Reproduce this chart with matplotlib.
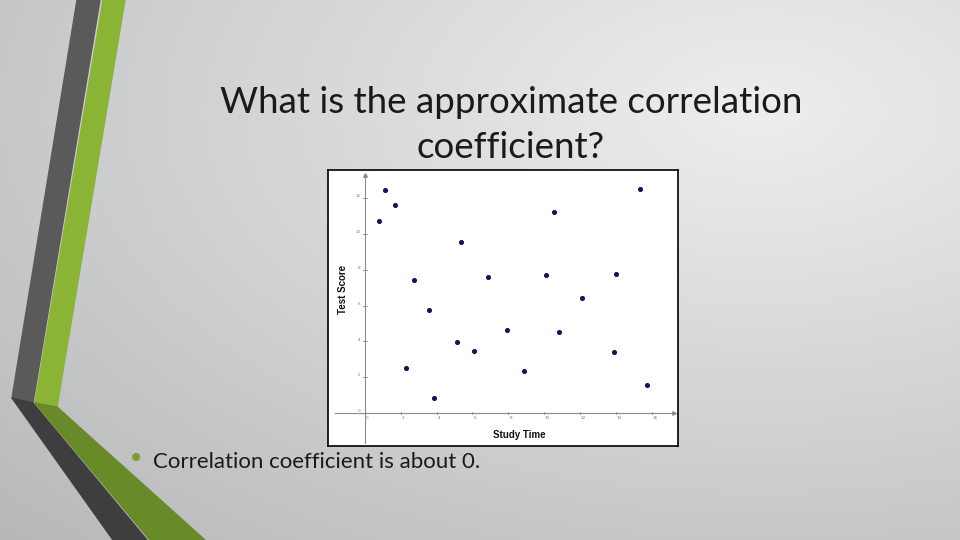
import numpy as np
import matplotlib.pyplot as plt
from matplotlib.patches import Polygon

# Дані, зчитані з діаграми розсіювання
study_time = [1.13, 1.68, 0.79, 5.38, 2.76, 6.85, 15.31, 10.54, 10.09, 13.99, 12.10,
              3.60, 5.14, 6.10, 7.90, 2.30, 3.86, 8.89, 10.84, 13.88, 15.70]
test_score = [12.47, 11.64, 10.74, 9.54, 7.45, 7.62, 12.51, 11.25, 7.71, 7.78, 6.42,
              5.75, 3.95, 3.46, 4.64, 2.51, 0.85, 2.33, 4.53, 3.42, 1.55]
x_ticks = [0, 2, 4, 6, 8, 10, 12, 14, 16]
y_ticks = [0, 2, 4, 6, 8, 10, 12]

title = "What is the approximate correlation\ncoefficient?"
bullet = "Correlation coefficient is about 0."

W, H = 960, 540
fig = plt.figure(figsize=(9.6, 5.4), dpi=100)

# Фон слайда (сірий градієнт)
bg = fig.add_axes([0, 0, 1, 1])
bg.axis('off')
yy, xx = np.mgrid[0:H, 0:W]
d = np.hypot((xx - 760) / 960, (yy - 110) / 540)
g = np.clip(0.93 - 0.19 * d, 0, 1)
img = np.dstack([g, g + 0.004, g + 0.008]).clip(0, 1)
bg.imshow(img, extent=[0, W, H, 0], aspect='auto')
bg.set_xlim(0, W)
bg.set_ylim(H, 0)

# Декоративні смуги зліва
bg.add_patch(Polygon([(77, 0), (100, 0), (33, 403), (12, 398)], closed=True, color='#5a5a5a'))
bg.add_patch(Polygon([(103, 0), (125, 0), (57, 407), (35, 403)], closed=True, color='#8ab434'))
bg.add_patch(Polygon([(12, 398), (33, 403), (147, 540), (113, 540)], closed=True, color='#3e3e3e'))
bg.add_patch(Polygon([(35, 403), (57, 407), (205, 540), (150, 540)], closed=True, color='#688a28'))

# Заголовок і текст
bg.text(511, 125, title, ha='center', va='center', fontsize=26.5, family='Lato',
        color='#1a1a1a', linespacing=1.45)
bg.text(136, 459, '•', ha='center', va='center', fontsize=20, color='#7a9e32')
bg.text(153, 462, bullet, ha='left', va='center', fontsize=16, family='Lato', color='#1a1a1a')

# Діаграма розсіювання
ax = fig.add_axes([328 / W, 1 - 446 / H, 350 / W, 276 / H])
ax.set_facecolor('white')
for s in ax.spines.values():
    s.set_color('black')
    s.set_linewidth(1.2)
ax.set_xticks([])
ax.set_yticks([])
ax.set_xlim(-2.05, 17.45)
ax.set_ylim(-1.84, 13.58)

axis_col = '#8a8a8a'
ax.plot([-1.66, 17.2], [0, 0], color=axis_col, lw=0.8)
ax.plot([0, 0], [-1.7, 13.3], color=axis_col, lw=0.8)
ax.plot([17.2], [0], marker='>', ms=2.5, color=axis_col)
ax.plot([0], [13.3], marker='^', ms=2.5, color=axis_col)

for t in x_ticks:
    ax.plot([t, t], [-0.08, 0.08], color=axis_col, lw=0.6)
    ax.text(t + 0.15, -0.3, str(t), ha='center', va='center', fontsize=3, color='#777777')
for t in y_ticks:
    ax.plot([-0.1, 0.1], [t, t], color=axis_col, lw=0.6)
    ax.text(-0.25, t + 0.1, str(t), ha='right', va='center', fontsize=3, color='#777777')

ax.scatter(study_time, test_score, s=7, color='#14145a', zorder=3)

ax.text(8.6, -1.2, 'Study Time', ha='center', va='center', fontsize=7,
        fontweight='bold', family='Liberation Sans', color='#111111')
ax.text(-1.2, 6.9, 'Test Score', ha='center', va='center', fontsize=7, rotation=90,
        fontweight='bold', family='Liberation Sans', color='#111111')

fig.savefig('out.png', dpi=100)
